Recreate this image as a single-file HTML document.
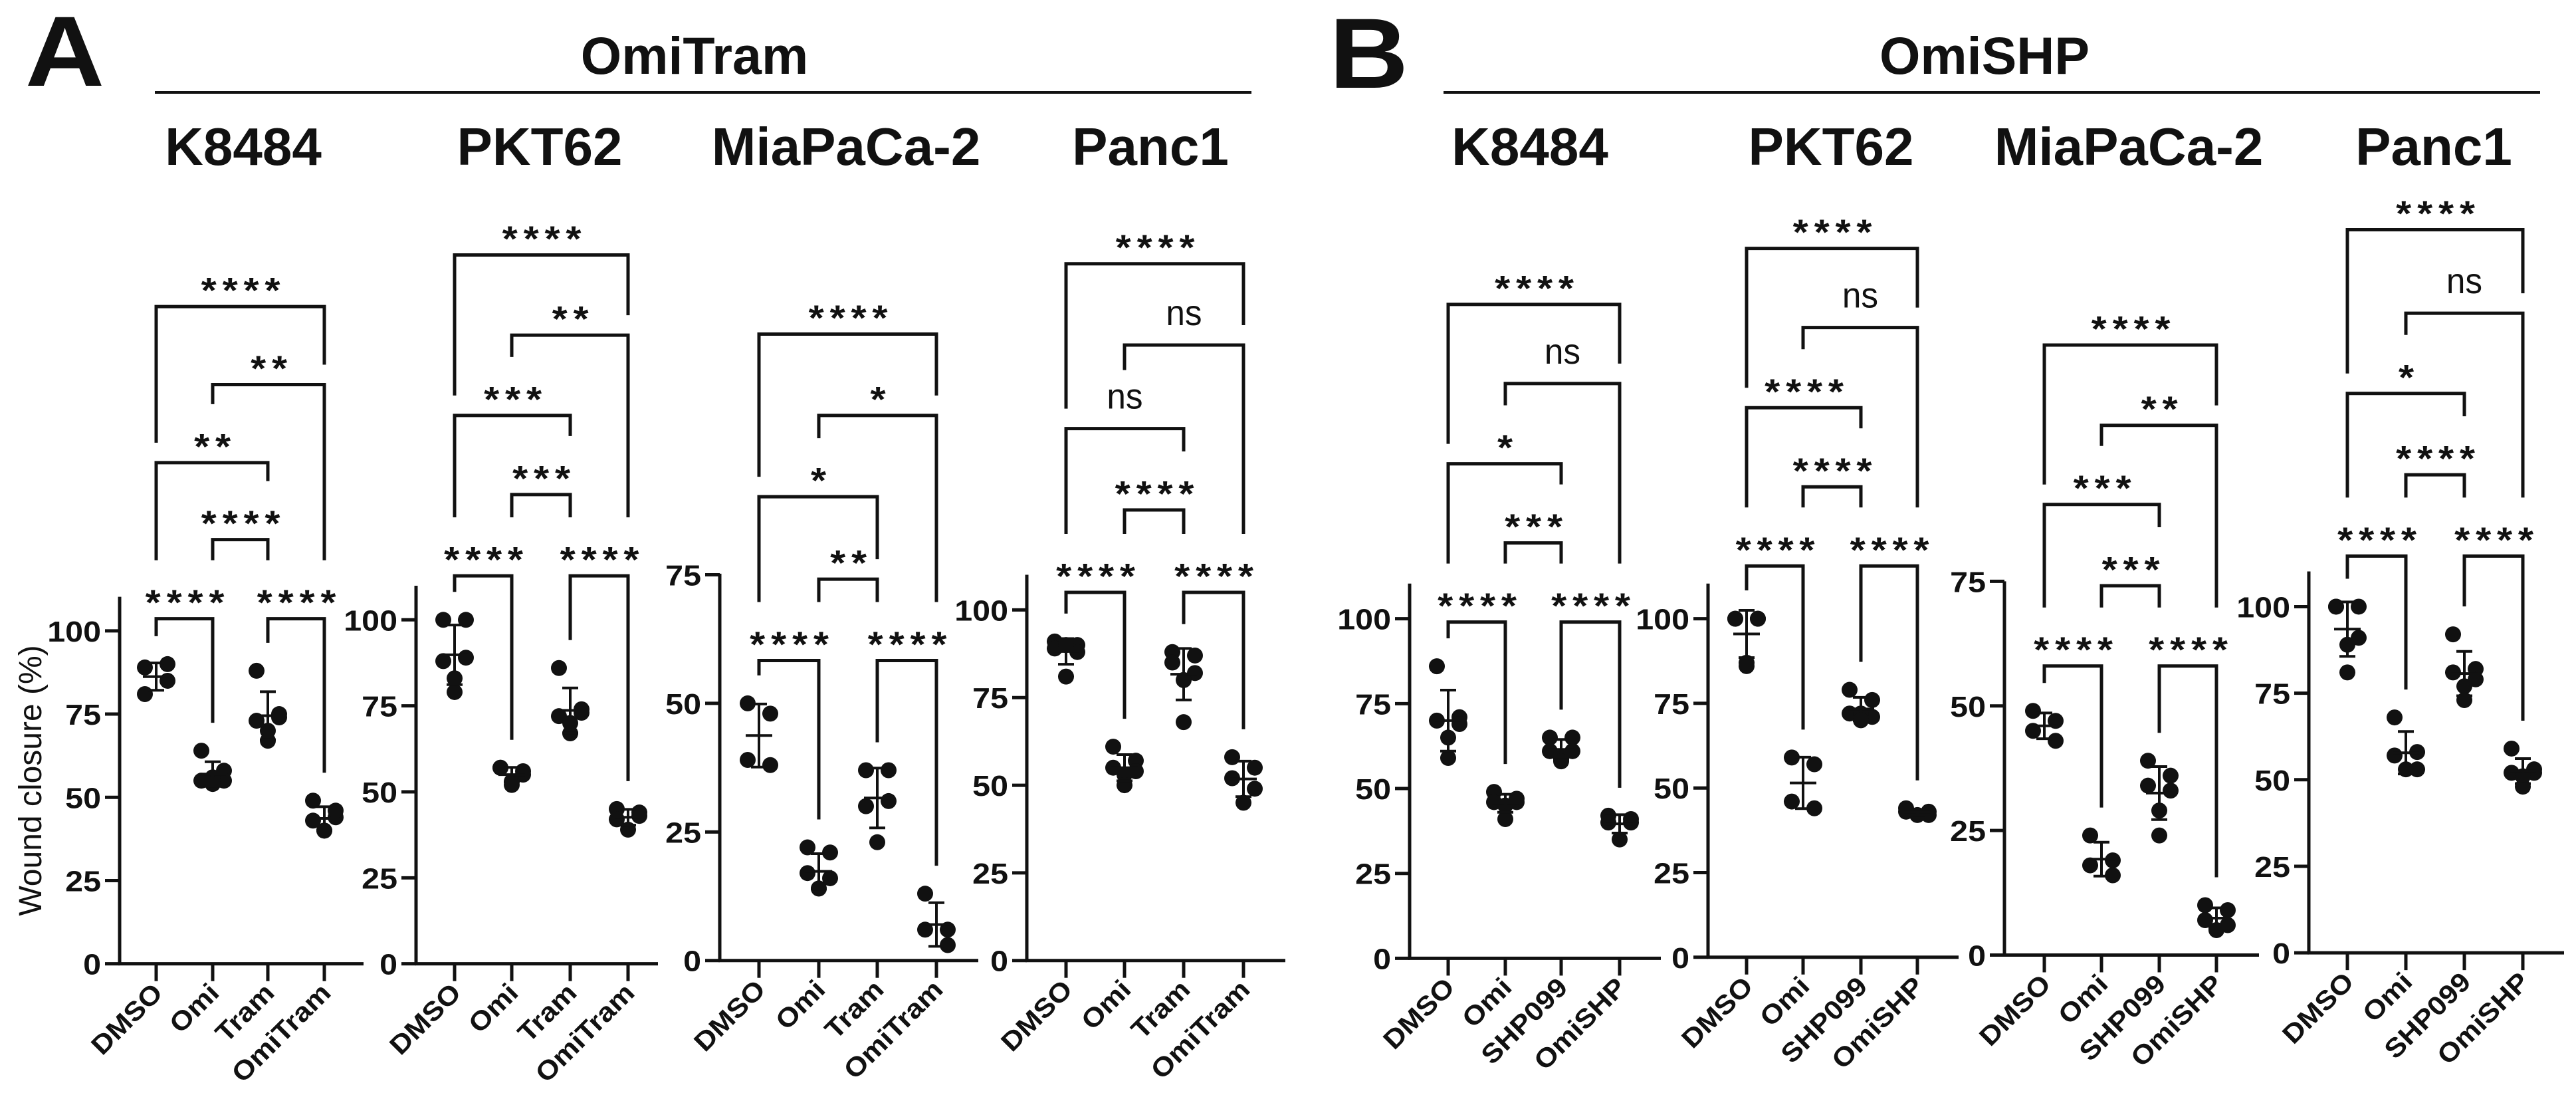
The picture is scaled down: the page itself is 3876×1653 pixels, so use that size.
<!DOCTYPE html>
<html><head><meta charset="utf-8"><style>
html,body{margin:0;padding:0;background:#fff}
svg{display:block}
text{font-family:"Liberation Sans",Arial,sans-serif;fill:#111}
</style></head><body>
<svg id="fig" width="3876" height="1653" viewBox="0 0 3876 1653" xmlns="http://www.w3.org/2000/svg">
<text transform="translate(38,129) scale(1.1,1)" font-size="150" font-weight="bold">A</text>
<text transform="translate(2000,132) scale(1.1,1)" font-size="150" font-weight="bold">B</text>
<text transform="translate(1045,111) scale(1.0,1)" text-anchor="middle" font-size="79" font-weight="bold">OmiTram</text>
<line x1="233" y1="139" x2="1883" y2="139" stroke="#111" stroke-width="4"/>
<text transform="translate(2986,111) scale(1.0,1)" text-anchor="middle" font-size="79" font-weight="bold">OmiSHP</text>
<line x1="2172" y1="139" x2="3822" y2="139" stroke="#111" stroke-width="4"/>
<text transform="translate(62,1174) rotate(-90)" text-anchor="middle" font-size="48">Wound closure (%)</text>
</svg>
<script>
const catsTram = ['DMSO','Omi','Tram','OmiTram'];
const catsSHP = ['DMSO','Omi','SHP099','OmiSHP'];
const ticks100 = [0,25,50,75,100];
const ticks75 = [0,25,50,75];
const pairs = [[0,1],[2,3],[1,2],[0,2],[1,3],[0,3]];

const aK8484Values = [[89,90,81,85],[64,58,55,55,56,54],[88,74,73,75,70,67],[49,44,43,46,40,40]];
const aK8484Sig = ['****','****','****','**','**','****'];
const aPKT62Values = [[100,100,88,89,83,79],[57,56,57,55,53,52],[86,73,72,74,70,67],[45,43,42,44,39]];
const aPKT62Sig = ['****','****','***','***','**','****'];
const aMiaValues = [[50,48,39,38],[22,21,17,16,14,14],[37,37,30,31,23],[13,6,6,3]];
const aMiaSig = ['****','****','**','*','*','****'];
const aPanc1Values = [[91,90,89,88,90,81],[61,57,55,54,53,50],[88,87,85,82,80,68],[58,55,52,49,45]];
const aPanc1Sig = ['****','****','****','ns','ns','****'];
const bK8484Values = [[86,71,70,69,65,59],[49,47,46,46,45,41],[65,65,61,61,59,58],[42,41,40,40,35]];
const bK8484Sig = ['****','****','***','*','ns','****'];
const bPKT62Values = [[100,100,100,100,86,87],[59,57,46,44],[79,76,72,71,72,70],[44,43,43,42,42]];
const bPKT62Sig = ['****','****','****','****','ns','****'];
const bMiaValues = [[49,47,45,43],[24,19,18,16],[39,36,34,33,29,24],[10,9,7,6,5]];
const bMiaSig = ['****','****','***','***','**','****'];
const bPanc1Values = [[100,100,100,91,89,81],[68,58,57,53,53],[92,82,81,79,77,73],[59,53,52,52,48,51]];
const bPanc1Sig = ['****','****','****','*','ns','****'];

const K = 1.653;
const panels = [
 {id:'a-k8484',title:'K8484',cats:catsTram,ticks:ticks100,vals:aK8484Values,sig:aK8484Sig,
  L:{ax:180,y0:877,yRef:574,ref:100,top:543,xEnd:547,cx:[235,320,403,488],by:[563,563,491,421,350,279],tx:366}},
 {id:'a-pkt62',title:'PKT62',cats:catsTram,ticks:ticks100,vals:aPKT62Values,sig:aPKT62Sig,
  L:{ax:626,y0:877,yRef:564,ref:100,top:533,xEnd:990,cx:[684,770,858,945],by:[524,524,450,378,305,232],tx:812}},
 {id:'a-miapaca2',title:'MiaPaCa-2',cats:catsTram,ticks:ticks75,vals:aMiaValues,sig:aMiaSig,
  L:{ax:1083,y0:874,yRef:523,ref:75,top:522,xEnd:1472,cx:[1142,1232,1320,1409],by:[601,601,527,452,378,304],tx:1273}},
 {id:'a-panc1',title:'Panc1',cats:catsTram,ticks:ticks100,vals:aPanc1Values,sig:aPanc1Sig,
  L:{ax:1545,y0:874,yRef:555,ref:100,top:523,xEnd:1934,cx:[1604,1692,1781,1871],by:[539,539,464,390,314,240],tx:1731}},
 {id:'b-k8484',title:'K8484',cats:catsSHP,ticks:ticks100,vals:bK8484Values,sig:bK8484Sig,
  L:{ax:2121,y0:872,yRef:563,ref:100,top:531,xEnd:2499,cx:[2179,2265,2349,2437],by:[566,566,494,422,349,277],tx:2302}},
 {id:'b-pkt62',title:'PKT62',cats:catsSHP,ticks:ticks100,vals:bPKT62Values,sig:bPKT62Sig,
  L:{ax:2570,y0:871,yRef:563,ref:100,top:531,xEnd:2947,cx:[2628,2713,2800,2885],by:[515,515,443,371,298,226],tx:2755}},
 {id:'b-miapaca2',title:'MiaPaCa-2',cats:catsSHP,ticks:ticks75,vals:bMiaValues,sig:bMiaSig,
  L:{ax:3016,y0:869,yRef:529,ref:75,top:529,xEnd:3399,cx:[3076,3162,3249,3335],by:[606,606,533,459,387,314],tx:3203}},
 {id:'b-panc1',title:'Panc1',cats:catsSHP,ticks:ticks100,vals:bPanc1Values,sig:bPanc1Sig,
  L:{ax:3474,y0:867,yRef:552,ref:100,top:520,xEnd:3858,cx:[3532,3620,3708,3796],by:[506,506,432,358,285,209],tx:3662}}
];
const jitter = [-17,17,-17,17,0,0,-8,8];
const NS = 'http://www.w3.org/2000/svg';
const svg = document.getElementById('fig');
function mk(tag, attrs, parent, txt){
  const e = document.createElementNS(NS, tag);
  for (const k in attrs) e.setAttribute(k, attrs[k]);
  if (txt !== undefined) e.textContent = txt;
  (parent||svg).appendChild(e);
  return e;
}
function stats(a){
  const m = a.reduce((s,v)=>s+v,0)/a.length;
  const sd = a.length>1 ? Math.sqrt(a.reduce((s,v)=>s+(v-m)*(v-m),0)/(a.length-1)) : 0;
  return {m, sd};
}
panels.forEach(p=>{
  const L0 = p.L;
  const L = {ax:L0.ax, xEnd:L0.xEnd, cx:L0.cx, tx:L0.tx, ref:L0.ref,
    y0:L0.y0*K, yRef:L0.yRef*K, top:L0.top*K, by:L0.by.map(v=>v*K)};
  const y = v => L.y0 - v*(L.y0 - L.yRef)/L.ref;
  const g = mk('g', {});
  
  
  const t = mk('text', {transform:`translate(${L.tx},248) scale(1.0,1)`, 'text-anchor':'middle','font-size':80,'font-weight':'bold'}, g, p.title);
  
  
  const ya = mk('line', {x1:L.ax,y1:L.top,x2:L.ax,y2:L.y0+2,stroke:'#111','stroke-width':5}, g);
  
  
  const xa = mk('line', {x1:L.ax-2,y1:L.y0,x2:L.xEnd,y2:L.y0,stroke:'#111','stroke-width':5}, g);
  
  
  p.ticks.forEach(v=>{
    const ty = y(v);
    const tl = mk('line', {x1:L.ax-22,y1:ty,x2:L.ax,y2:ty,stroke:'#111','stroke-width':5}, g);
    
    
    const tt = mk('text', {transform:`translate(${L.ax-28},${ty+16}) scale(1.1,1)`,'text-anchor':'end','font-size':44,'font-weight':'bold'}, g, String(v));
    
    
  });
  const tops = [];
  p.cats.forEach((c,i)=>{
    const cx = L.cx[i];
    const xt = mk('line', {x1:cx,y1:L.y0,x2:cx,y2:L.y0+26,stroke:'#111','stroke-width':5}, g);
    
    
    const xl = mk('text', {transform:`translate(${cx+12},${L.y0+46}) rotate(-45) scale(1.1,1)`,'text-anchor':'end','font-size':40,'font-weight':'bold'}, g, c);
    
    
    const vals = p.vals[i];
    let top = 1e9;
    vals.forEach((v,k)=>{
      const d = mk('circle', {cx:cx+jitter[k%jitter.length],cy:y(v),r:12,fill:'#111'}, g);
      
      
      top = Math.min(top, y(v)-12);
    });
    const s = stats(vals);
    const eg = mk('g', {stroke:'#111','stroke-width':4}, g);
    
    
    mk('line', {x1:cx-20,y1:y(s.m),x2:cx+20,y2:y(s.m)}, eg);
    mk('line', {x1:cx,y1:y(s.m+s.sd),x2:cx,y2:y(s.m-s.sd)}, eg);
    mk('line', {x1:cx-12,y1:y(s.m+s.sd),x2:cx+12,y2:y(s.m+s.sd)}, eg);
    mk('line', {x1:cx-12,y1:y(s.m-s.sd),x2:cx+12,y2:y(s.m-s.sd)}, eg);
    tops.push(Math.min(top, y(s.m+s.sd)));
  });
  const br = pairs.map((pr,j)=>{
    const x1 = L.cx[pr[0]], x2 = L.cx[pr[1]];
    const lab = p.sig[j];
    const hw = lab==='ns' ? 25 : lab.length*15;
    return {i1:pr[0], i2:pr[1], x1, x2, by:L.by[j], lab, mid:(x1+x2)/2, hw};
  });
  br.forEach(b=>{
    const legEnd = (i)=>{
      const x = L.cx[i];
      let ob = tops[i];
      br.forEach(o=>{
        if (o.by <= b.by + 1) return;
        if (i >= o.i1 && i <= o.i2) ob = Math.min(ob, o.by);
        if (Math.abs(x - o.mid) < o.hw) ob = Math.min(ob, o.by - 58);
      });
      return ob - 30;
    };
    const bg = mk('g', {}, g);
    
    
    mk('polyline', {points:`${b.x1},${legEnd(b.i1)} ${b.x1},${b.by} ${b.x2},${b.by} ${b.x2},${legEnd(b.i2)}`,fill:'none',stroke:'#111','stroke-width':5}, bg);
    if (b.lab === 'ns') {
      mk('text', {transform:`translate(${b.mid},${b.by-30}) scale(0.95,1)`,'text-anchor':'middle','font-size':54}, bg, 'ns');
    } else {
      mk('text', {transform:`translate(${b.mid+5},${b.by-6}) scale(1.1,1)`,'text-anchor':'middle','font-size':54,'font-weight':'bold','letter-spacing':'8'}, bg, b.lab);
    }
  });
});
</script>
</body></html>
